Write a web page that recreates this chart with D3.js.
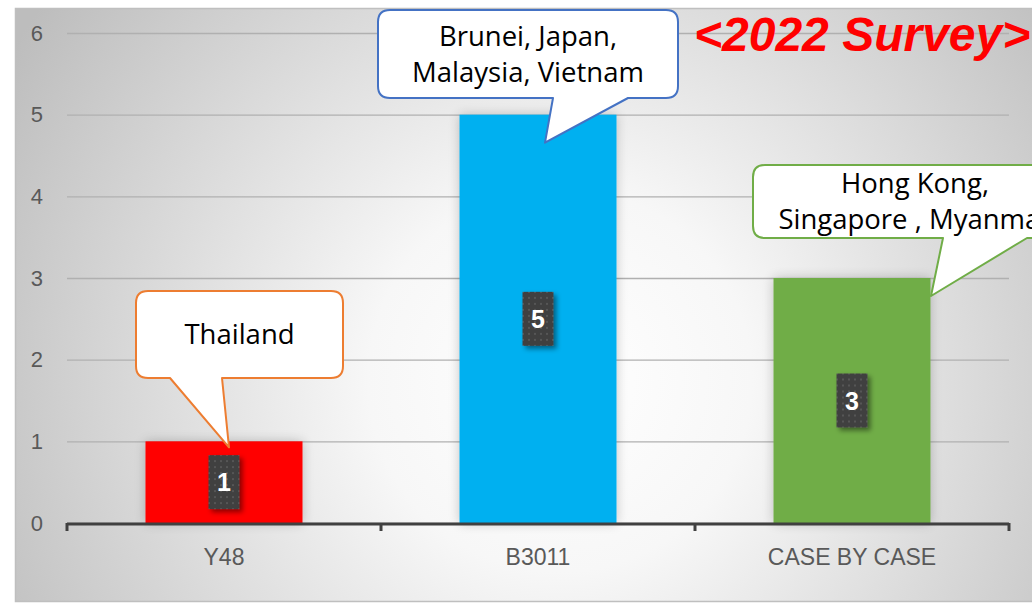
<!DOCTYPE html>
<html>
<head>
<meta charset="utf-8">
<script src="https://cdn.jsdelivr.net/npm/d3@7/dist/d3.min.js"></script>
<style>
  html, body { margin: 0; padding: 0; background: #ffffff; }
  svg { display: block; }
</style>
</head>
<body>
<svg id="chart" width="1032" height="603"></svg>
<script>
// ---- data ----
const categories = ["Y48", "B3011", "CASE BY CASE"];
const counts = [1, 5, 3];
const barColors = ["#FF0000", "#00B0F0", "#70AD47"];
const yTicks = [0, 1, 2, 3, 4, 5, 6];
const calloutLines = [
  ["Thailand"],
  ["Brunei, Japan,", "Malaysia, Vietnam"],
  ["Hong Kong,", "Singapore , Myanmar"]
];
const calloutColors = ["#ED7D31", "#4472C4", "#70AD47"];
const titleText = "<2022 Survey>";

// ---- layout ----
const W = 1032, H = 603;
const plot = { left: 67, right: 1009, top: 33, bottom: 523 };

// callout boxes: rect, pointer base on the bottom edge, tip offset from the bar's top centre
const calloutLayout = [
  { x0: 136, x1: 343, y0: 291, y1: 378, b0: 170, b1: 222, tipDx: 5,   tipDy: 6 },
  { x0: 378, x1: 678, y0: 10,  y1: 98,  b0: 553, b1: 628, tipDx: 7,   tipDy: 28 },
  { x0: 753, x1: 1077, y0: 165, y1: 238, b0: 943, b1: 1027, tipDx: 79, tipDy: 18 }
];

const svg = d3.select("#chart");
const defs = svg.append("defs");

// chart area background: radial fade from white to grey
const grad = defs.append("radialGradient")
  .attr("id", "bgGrad")
  .attr("gradientUnits", "userSpaceOnUse")
  .attr("cx", 560).attr("cy", 380).attr("r", 640);
grad.append("stop").attr("offset", "0%").attr("stop-color", "#ffffff");
grad.append("stop").attr("offset", "30%").attr("stop-color", "#f7f7f7");
grad.append("stop").attr("offset", "100%").attr("stop-color", "#bdbdbd");

// soft halo behind bars
const halo = defs.append("filter").attr("id", "halo")
  .attr("x", "-30%").attr("y", "-30%").attr("width", "160%").attr("height", "160%");
halo.append("feGaussianBlur").attr("in", "SourceAlpha").attr("stdDeviation", 6).attr("result", "b");
halo.append("feComponentTransfer").attr("in", "b").attr("result", "b2")
  .append("feFuncA").attr("type", "linear").attr("slope", 0.22);
const hm = halo.append("feMerge");
hm.append("feMergeNode").attr("in", "b2");
hm.append("feMergeNode").attr("in", "SourceGraphic");

// drop shadow for value boxes
const shadow = defs.append("filter").attr("id", "boxShadow")
  .attr("x", "-50%").attr("y", "-50%").attr("width", "200%").attr("height", "200%");
shadow.append("feDropShadow").attr("dx", 3).attr("dy", 3).attr("stdDeviation", 2.5)
  .attr("flood-color", "#000").attr("flood-opacity", 0.45);

// dotted texture for value boxes
const pat = defs.append("pattern").attr("id", "dots")
  .attr("patternUnits", "userSpaceOnUse").attr("width", 6).attr("height", 6);
pat.append("rect").attr("width", 6).attr("height", 6).attr("fill", "#3f3f3f");
pat.append("rect").attr("x", 2).attr("y", 2).attr("width", 2).attr("height", 2).attr("fill", "#575757");

// clip so content stays within the window
defs.append("clipPath").attr("id", "areaClip")
  .append("rect").attr("x", 15).attr("y", 8).attr("width", W - 15).attr("height", 594);

svg.append("rect")
  .attr("x", 15.5).attr("y", 8.5).attr("width", W + 10).attr("height", 593)
  .attr("fill", "url(#bgGrad)")
  .attr("stroke", "#bfbfbf").attr("stroke-width", 1.5);

const g = svg.append("g").attr("clip-path", "url(#areaClip)");

// ---- scales ----
const x = d3.scaleBand()
  .domain(categories)
  .range([plot.left, plot.right])
  .paddingInner(0.5)
  .paddingOuter(0.25);

const y = d3.scaleLinear()
  .domain([0, 6])
  .range([plot.bottom, plot.top]);

// ---- gridlines + y labels ----
const yAxis = d3.axisLeft(y)
  .tickValues(yTicks)
  .tickSize(-(plot.right - plot.left))
  .tickPadding(24)
  .tickFormat(d3.format("d"));

const yG = g.append("g")
  .attr("transform", `translate(${plot.left},0)`)
  .call(yAxis);
yG.select(".domain").remove();
yG.selectAll(".tick line")
  .attr("stroke", "#b0b0b0").attr("stroke-width", 1.3);
yG.selectAll(".tick text")
  .attr("fill", "#595959")
  .style("font-family", "'Liberation Sans', Arial, sans-serif")
  .style("font-size", "22px");

// ---- bars ----
g.append("g").selectAll("rect")
  .data(categories)
  .join("rect")
  .attr("x", d => x(d))
  .attr("y", (d, i) => y(counts[i]))
  .attr("width", x.bandwidth())
  .attr("height", (d, i) => y(0) - y(counts[i]))
  .attr("fill", (d, i) => barColors[i])
  .attr("filter", "url(#halo)");

// ---- x axis ----
const xAxis = d3.axisBottom(x).tickSize(0).tickPadding(26);
const xG = g.append("g")
  .attr("transform", `translate(0,${plot.bottom})`)
  .call(xAxis);
xG.select(".domain").remove();
xG.selectAll(".tick text")
  .attr("fill", "#595959")
  .style("font-family", "'Liberation Sans', Arial, sans-serif")
  .style("font-size", "23px");

// axis line with ticks at the category boundaries
const boundaries = categories.map(c => x(c) - x.step() * x.paddingInner() / 2);
boundaries[0] = plot.left;
boundaries.push(plot.right);
xG.append("line")
  .attr("x1", plot.left).attr("x2", plot.right)
  .attr("y1", 1).attr("y2", 1)
  .attr("stroke", "#404040").attr("stroke-width", 3);
xG.selectAll(".bound")
  .data(boundaries)
  .join("line")
  .attr("class", "bound")
  .attr("x1", d => d).attr("x2", d => d)
  .attr("y1", 0).attr("y2", 8)
  .attr("stroke", "#404040").attr("stroke-width", 3);

// ---- value boxes ----
const vb = g.append("g").selectAll("g")
  .data(categories)
  .join("g")
  .attr("transform", (d, i) =>
    `translate(${x(d) + x.bandwidth() / 2},${(y(counts[i]) + y(0)) / 2})`);
vb.append("rect")
  .attr("x", -15.5).attr("y", -27)
  .attr("width", 31).attr("height", 54)
  .attr("fill", "url(#dots)")
  .attr("filter", "url(#boxShadow)");
vb.append("text")
  .attr("text-anchor", "middle")
  .attr("dy", "0.36em")
  .attr("fill", "#ffffff")
  .style("font-family", "'Liberation Sans', Arial, sans-serif")
  .style("font-weight", "bold")
  .style("font-size", "25px")
  .text((d, i) => counts[i]);

// ---- callouts ----
function calloutPath(L, tx, ty) {
  const r = 12;
  const p = d3.path();
  p.moveTo(L.x0 + r, L.y0);
  p.lineTo(L.x1 - r, L.y0);
  p.quadraticCurveTo(L.x1, L.y0, L.x1, L.y0 + r);
  p.lineTo(L.x1, L.y1 - r);
  p.quadraticCurveTo(L.x1, L.y1, L.x1 - r, L.y1);
  p.lineTo(L.b1, L.y1);
  p.lineTo(tx, ty);
  p.lineTo(L.b0, L.y1);
  p.lineTo(L.x0 + r, L.y1);
  p.quadraticCurveTo(L.x0, L.y1, L.x0, L.y1 - r);
  p.lineTo(L.x0, L.y0 + r);
  p.quadraticCurveTo(L.x0, L.y0, L.x0 + r, L.y0);
  p.closePath();
  return p.toString();
}

const co = g.append("g").selectAll("g")
  .data(categories)
  .join("g");
co.append("path")
  .attr("d", (d, i) => {
    const L = calloutLayout[i];
    const tx = x(d) + x.bandwidth() / 2 + L.tipDx;
    const ty = y(counts[i]) + L.tipDy;
    return calloutPath(L, tx, ty);
  })
  .attr("fill", "#ffffff")
  .attr("stroke", (d, i) => calloutColors[i])
  .attr("stroke-width", 2)
  .attr("stroke-linejoin", "round");
co.each(function (d, i) {
  const L = calloutLayout[i];
  const lines = calloutLines[i];
  const cx = (L.x0 + L.x1) / 2;
  const cy = (L.y0 + L.y1) / 2;
  const lh = 36;
  const t = d3.select(this).append("text")
    .attr("text-anchor", "middle")
    .attr("fill", "#000000")
    .style("font-family", "'Open Sans', 'Noto Sans', sans-serif")
    .style("font-size", "27.5px");
  lines.forEach((s, k) => {
    t.append("tspan")
      .attr("x", cx)
      .attr("y", cy + (k - (lines.length - 1) / 2) * lh)
      .attr("dy", "0.35em")
      .text(s);
  });
});

// ---- title ----
g.append("text")
  .attr("x", 694).attr("y", 51)
  .attr("fill", "#FF0000")
  .style("font-family", "'Liberation Sans', Arial, sans-serif")
  .style("font-weight", "bold")
  .style("font-style", "italic")
  .style("font-size", "48px")
  .text(titleText);
</script>
</body>
</html>
